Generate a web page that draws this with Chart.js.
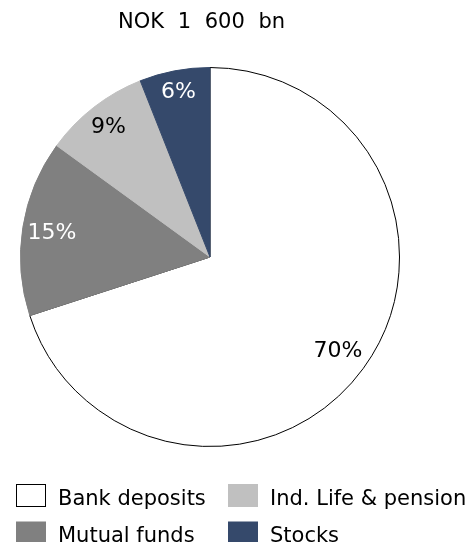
<!DOCTYPE html>
<html>
<head>
<meta charset="utf-8">
<script src="https://cdn.jsdelivr.net/npm/chart.js@4/dist/chart.umd.min.js"></script>
<style>
  html, body { margin: 0; padding: 0; background: #fff; }
  #c { display: block; }
</style>
</head>
<body>
<canvas id="c" width="475" height="542"></canvas>
<script>
const title = 'NOK 1 600 bn';
const categories = ['Bank deposits', 'Mutual funds', 'Ind. Life & pension', 'Stocks'];
const shares = [70, 15, 9, 6];
const fillColors = ['#ffffff', '#808080', '#c0c0c0', '#35496b'];
const edgeColors = ['#000000', '#808080', '#c0c0c0', '#35496b'];
const labelColors = ['#000000', '#ffffff', '#000000', '#ffffff'];
const legendOrder = [0, 2, 1, 3]; // row-major: row1 Bank, Ind; row2 Mutual, Stocks

const FONT = '"DejaVu Sans", Verdana, sans-serif';

const decor = {
  id: 'decor',
  afterDraw(chart) {
    const ctx = chart.ctx;
    ctx.save();
    // title
    ctx.fillStyle = '#000';
    ctx.font = '21px ' + FONT;
    ctx.textAlign = 'center';
    ctx.textBaseline = 'alphabetic';
    if ('wordSpacing' in ctx) ctx.wordSpacing = '7px';
    ctx.fillText(title, 201.5, 28);
    if ('wordSpacing' in ctx) ctx.wordSpacing = '0px';

    // slice labels
    const fr = [0.835, 0.845, 0.875, 0.89];
    const meta = chart.getDatasetMeta(0);
    ctx.font = '22px ' + FONT;
    ctx.textAlign = 'center';
    ctx.textBaseline = 'middle';
    meta.data.forEach((arc, i) => {
      const p = arc.getProps(['x', 'y', 'startAngle', 'endAngle', 'outerRadius'], true);
      const mid = (p.startAngle + p.endAngle) / 2;
      const r = p.outerRadius * fr[i];
      ctx.fillStyle = labelColors[i];
      ctx.fillText(shares[i] + '%', p.x + Math.cos(mid) * r, p.y + Math.sin(mid) * r + 1);
    });

    // legend
    const colX = [16, 228];
    const rowY = [484, 521.5];
    ctx.font = '21px ' + FONT;
    ctx.textAlign = 'left';
    ctx.textBaseline = 'alphabetic';
    legendOrder.forEach((idx, k) => {
      const x = colX[k % 2], y = rowY[Math.floor(k / 2)];
      ctx.fillStyle = fillColors[idx];
      ctx.fillRect(x, y, 30, 23);
      if (idx === 0) {
        ctx.strokeStyle = '#000';
        ctx.lineWidth = 1;
        ctx.strokeRect(x + 0.5, y + 0.5, 29, 22);
      }
      ctx.fillStyle = '#000';
      ctx.fillText(categories[idx], x + 42, y + 20.5);
    });
    ctx.restore();
  }
};

new Chart(document.getElementById('c'), {
  type: 'pie',
  data: {
    labels: categories,
    datasets: [{
      data: shares,
      backgroundColor: fillColors,
      borderColor: edgeColors,
      borderWidth: 1
    }]
  },
  options: {
    responsive: false,
    animation: false,
    layout: { padding: { top: 67, left: 20, right: 75, bottom: 95 } },
    plugins: {
      legend: { display: false },
      tooltip: { enabled: false },
      title: { display: false }
    }
  },
  plugins: [decor]
});
</script>
</body>
</html>
